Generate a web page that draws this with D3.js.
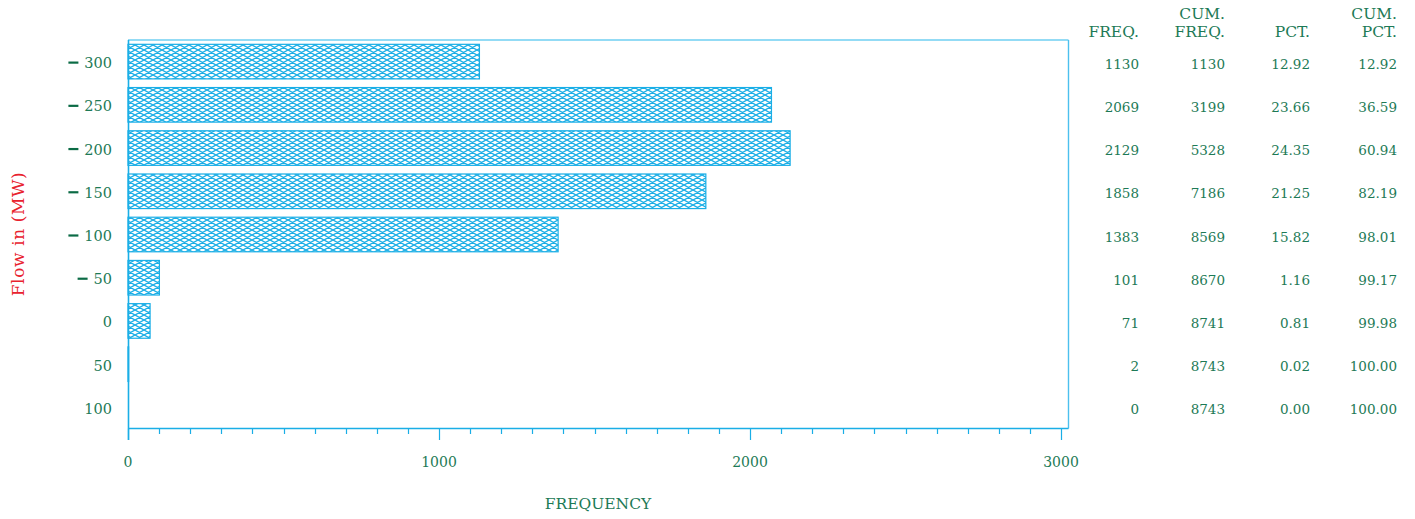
<!DOCTYPE html>
<html>
<head>
<meta charset="utf-8">
<script src="https://cdn.jsdelivr.net/npm/d3@7"></script>
<style>
html,body{margin:0;padding:0;background:#fff;}
svg{display:block;}
text{font-family:"DejaVu Serif",serif;}
</style>
</head>
<body>
<svg id="chart" width="1415" height="519"></svg>
<script>
const categories = ["-300","-250","-200","-150","-100","-50","0","50","100"];
const freq = [1130, 2069, 2129, 1858, 1383, 101, 71, 2, 0];
const cumFreq = ["1130","3199","5328","7186","8569","8670","8741","8743","8743"];
const pct = ["12.92","23.66","24.35","21.25","15.82","1.16","0.81","0.02","0.00"];
const cumPct = ["12.92","36.59","60.94","82.19","98.01","99.17","99.98","100.00","100.00"];
const xTicks = [0, 1000, 2000, 3000];
const tableHeaders = [["", "FREQ."], ["CUM.", "FREQ."], ["", "PCT."], ["CUM.", "PCT."]];

const cyan = "#1aaee6";
const green = "#1d7a56";
const darkGreen = "#0b6b45";

const svg = d3.select("#chart");
const x = d3.scaleLinear().domain([0, 3000]).range([128, 1061]);
const y = d3.scaleBand().domain(categories).range([40, 429]).paddingInner(0.2).paddingOuter(0.1);

// pattern
const defs = svg.append("defs");
const pw = 9, ph = 5;
const pat = defs.append("pattern").attr("id","hatch").attr("patternUnits","userSpaceOnUse")
  .attr("width",pw).attr("height",ph);
pat.append("rect").attr("width",pw).attr("height",ph).attr("fill","#fff");
pat.append("path").attr("d",`M0,0 L${pw},${ph} M0,${ph} L${pw},0 M${-pw},0 L${pw*2},${ph*3}`)
  .attr("stroke",cyan).attr("stroke-width",1.3).attr("fill","none");

// frame
const fx0 = 128, fx1 = 1068.5, fy0 = 40, fy1 = 428.5;
svg.append("line").attr("x1",fx0).attr("x2",fx1).attr("y1",fy0).attr("y2",fy0)
  .attr("stroke","#6fcff2").attr("stroke-width",1.6);
svg.append("line").attr("x1",fx1).attr("x2",fx1).attr("y1",fy0).attr("y2",fy1)
  .attr("stroke","#4cc0ee").attr("stroke-width",1.4);

// bars
svg.append("g").selectAll("rect").data(categories).join("rect")
  .attr("x", x(0))
  .attr("y", d => y(d))
  .attr("width", (d,i) => x(freq[i]) - x(0))
  .attr("height", y.bandwidth())
  .attr("fill","url(#hatch)")
  .attr("stroke", cyan).attr("stroke-width",1.2);

// x axis
const minorTicks = d3.range(0, 3001, 100);
const xa = svg.append("g");
xa.append("line").attr("x1",fx0).attr("x2",fx1).attr("y1",fy1).attr("y2",fy1)
  .attr("stroke",cyan).attr("stroke-width",1.4);
xa.selectAll("line.t").data(minorTicks).join("line").attr("class","t")
  .attr("x1", d => Math.round(x(d))+0.5).attr("x2", d => Math.round(x(d))+0.5)
  .attr("y1", fy1).attr("y2", d => d % 1000 === 0 ? 440 : 434)
  .attr("stroke", cyan).attr("stroke-width",1.2);
xa.selectAll("text").data(xTicks).join("text")
  .attr("x", d => x(d)).attr("y", 467)
  .attr("text-anchor","middle").attr("fill",green)
  .attr("font-size",14).text(d => d);

// y axis line
svg.append("line").attr("x1",128.5).attr("x2",128.5).attr("y1",fy0).attr("y2",440)
  .attr("stroke",cyan).attr("stroke-width",1.6);

// y tick labels
const yl = svg.append("g");
categories.forEach(c => {
  const cy = y(c) + y.bandwidth()/2;
  const neg = c.startsWith("-");
  const num = neg ? c.slice(1) : c;
  yl.append("text").attr("x",112).attr("y",cy+6.5).attr("text-anchor","end")
    .attr("fill",green).attr("font-size",14.5).text(num);
  if (neg) {
    const w = num.length * 9.2;
    yl.append("line").attr("x1",112 - w - 16).attr("x2",112 - w - 6)
      .attr("y1",cy+1).attr("y2",cy+1)
      .attr("stroke",darkGreen).attr("stroke-width",2.2);
  }
});

// axis titles
svg.append("text").attr("x",598).attr("y",509).attr("text-anchor","middle")
  .attr("fill",green).attr("font-size",15.5).text("FREQUENCY");
svg.append("text").attr("transform","translate(24,234) rotate(-90)")
  .attr("text-anchor","middle").attr("fill","#e8222e").attr("font-size",17)
  .attr("letter-spacing",0.6).text("Flow in (MW)");

// table
const colX = [1139, 1225, 1310, 1397];
const cols = [freq.map(String), cumFreq, pct, cumPct];
const tg = svg.append("g").attr("fill",green).attr("font-size",13.5).attr("text-anchor","end");
tableHeaders.forEach((h,j) => {
  if (h[0]) tg.append("text").attr("x",colX[j]).attr("y",19).attr("font-size",15.5).text(h[0]);
  tg.append("text").attr("x",colX[j]).attr("y",37).attr("font-size",15.5).text(h[1]);
});
cols.forEach((col,j) => {
  col.forEach((v,i) => {
    tg.append("text").attr("x",colX[j]).attr("y", y(categories[i]) + y.bandwidth()/2 + 7).text(v);
  });
});
</script>
</body>
</html>
